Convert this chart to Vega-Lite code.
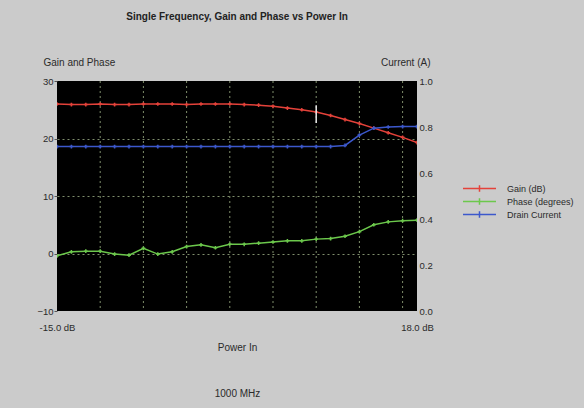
{
  "$schema": "https://vega.github.io/schema/vega-lite/v6.json",
  "width": 360,
  "height": 230,
  "autosize": {"type": "none"},
  "padding": {"left": 57, "top": 81, "right": 167, "bottom": 97},
  "background": "#cbcbcb",
  "title": {
    "text": "Single Frequency, Gain and Phase vs Power In",
    "font": "Liberation Sans",
    "fontSize": 10,
    "fontWeight": "bold",
    "color": "#222222",
    "anchor": "middle",
    "frame": "group",
    "offset": 35
  },
  "config": {
    "view": {"fill": "#000000", "stroke": null},
    "font": "Liberation Sans",
    "axis": {
      "labelColor": "#2a2a2a",
      "titleColor": "#2a2a2a",
      "labelFont": "Liberation Sans",
      "titleFont": "Liberation Sans",
      "titleFontWeight": "normal",
      "titleFontSize": 10,
      "labelFontSize": 9.5,
      "labelOverlap": false
    }
  },
  "datasets": {
    "series": [
      {"x": -15, "series": "Gain (dB)", "value": 26.0},
      {"x": -13.68, "series": "Gain (dB)", "value": 25.9},
      {"x": -12.36, "series": "Gain (dB)", "value": 25.9},
      {"x": -11.04, "series": "Gain (dB)", "value": 26.0},
      {"x": -9.72, "series": "Gain (dB)", "value": 25.9},
      {"x": -8.4, "series": "Gain (dB)", "value": 25.9},
      {"x": -7.08, "series": "Gain (dB)", "value": 26.0},
      {"x": -5.76, "series": "Gain (dB)", "value": 26.0},
      {"x": -4.44, "series": "Gain (dB)", "value": 26.0},
      {"x": -3.12, "series": "Gain (dB)", "value": 25.9},
      {"x": -1.8, "series": "Gain (dB)", "value": 26.0},
      {"x": -0.48, "series": "Gain (dB)", "value": 26.0},
      {"x": 0.84, "series": "Gain (dB)", "value": 26.0},
      {"x": 2.16, "series": "Gain (dB)", "value": 25.9},
      {"x": 3.48, "series": "Gain (dB)", "value": 25.8},
      {"x": 4.8, "series": "Gain (dB)", "value": 25.6},
      {"x": 6.12, "series": "Gain (dB)", "value": 25.3},
      {"x": 7.44, "series": "Gain (dB)", "value": 25.0},
      {"x": 8.76, "series": "Gain (dB)", "value": 24.6},
      {"x": 10.08, "series": "Gain (dB)", "value": 24.0},
      {"x": 11.4, "series": "Gain (dB)", "value": 23.3},
      {"x": 12.72, "series": "Gain (dB)", "value": 22.6},
      {"x": 14.04, "series": "Gain (dB)", "value": 21.8},
      {"x": 15.36, "series": "Gain (dB)", "value": 21.0},
      {"x": 16.68, "series": "Gain (dB)", "value": 20.2},
      {"x": 18, "series": "Gain (dB)", "value": 19.3},
      {"x": -15, "series": "Phase (degrees)", "value": -0.4},
      {"x": -13.68, "series": "Phase (degrees)", "value": 0.3},
      {"x": -12.36, "series": "Phase (degrees)", "value": 0.4},
      {"x": -11.04, "series": "Phase (degrees)", "value": 0.4},
      {"x": -9.72, "series": "Phase (degrees)", "value": -0.1},
      {"x": -8.4, "series": "Phase (degrees)", "value": -0.3},
      {"x": -7.08, "series": "Phase (degrees)", "value": 0.9},
      {"x": -5.76, "series": "Phase (degrees)", "value": -0.1},
      {"x": -4.44, "series": "Phase (degrees)", "value": 0.3},
      {"x": -3.12, "series": "Phase (degrees)", "value": 1.2},
      {"x": -1.8, "series": "Phase (degrees)", "value": 1.5},
      {"x": -0.48, "series": "Phase (degrees)", "value": 1.0},
      {"x": 0.84, "series": "Phase (degrees)", "value": 1.6},
      {"x": 2.16, "series": "Phase (degrees)", "value": 1.6},
      {"x": 3.48, "series": "Phase (degrees)", "value": 1.8},
      {"x": 4.8, "series": "Phase (degrees)", "value": 2.0},
      {"x": 6.12, "series": "Phase (degrees)", "value": 2.2},
      {"x": 7.44, "series": "Phase (degrees)", "value": 2.2},
      {"x": 8.76, "series": "Phase (degrees)", "value": 2.5},
      {"x": 10.08, "series": "Phase (degrees)", "value": 2.6},
      {"x": 11.4, "series": "Phase (degrees)", "value": 3.0},
      {"x": 12.72, "series": "Phase (degrees)", "value": 3.8},
      {"x": 14.04, "series": "Phase (degrees)", "value": 5.0},
      {"x": 15.36, "series": "Phase (degrees)", "value": 5.5},
      {"x": 16.68, "series": "Phase (degrees)", "value": 5.7},
      {"x": 18, "series": "Phase (degrees)", "value": 5.8},
      {"x": -15, "series": "Drain Current", "value": 0.715},
      {"x": -13.68, "series": "Drain Current", "value": 0.715},
      {"x": -12.36, "series": "Drain Current", "value": 0.715},
      {"x": -11.04, "series": "Drain Current", "value": 0.715},
      {"x": -9.72, "series": "Drain Current", "value": 0.715},
      {"x": -8.4, "series": "Drain Current", "value": 0.715},
      {"x": -7.08, "series": "Drain Current", "value": 0.715},
      {"x": -5.76, "series": "Drain Current", "value": 0.715},
      {"x": -4.44, "series": "Drain Current", "value": 0.715},
      {"x": -3.12, "series": "Drain Current", "value": 0.715},
      {"x": -1.8, "series": "Drain Current", "value": 0.715},
      {"x": -0.48, "series": "Drain Current", "value": 0.715},
      {"x": 0.84, "series": "Drain Current", "value": 0.715},
      {"x": 2.16, "series": "Drain Current", "value": 0.715},
      {"x": 3.48, "series": "Drain Current", "value": 0.715},
      {"x": 4.8, "series": "Drain Current", "value": 0.715},
      {"x": 6.12, "series": "Drain Current", "value": 0.715},
      {"x": 7.44, "series": "Drain Current", "value": 0.715},
      {"x": 8.76, "series": "Drain Current", "value": 0.715},
      {"x": 10.08, "series": "Drain Current", "value": 0.715},
      {"x": 11.4, "series": "Drain Current", "value": 0.72},
      {"x": 12.72, "series": "Drain Current", "value": 0.765},
      {"x": 14.04, "series": "Drain Current", "value": 0.795},
      {"x": 15.36, "series": "Drain Current", "value": 0.8},
      {"x": 16.68, "series": "Drain Current", "value": 0.802},
      {"x": 18, "series": "Drain Current", "value": 0.802}
    ],
    "cursor": [
      {"x": 8.76, "top": 25.8, "bottom": 22.7}
    ],
    "vgrid": [
      {"gx": -11.04}, {"gx": -7.08}, {"gx": -3.12}, {"gx": 0.84},
      {"gx": 4.8}, {"gx": 8.76}, {"gx": 12.72}, {"gx": 16.68}
    ]
  },
  "layer": [
    {
      "layer": [
        {
          "data": {"name": "vgrid"},
          "mark": {"type": "rule", "color": "#7f8e6c", "strokeDash": [2, 3], "strokeWidth": 1},
          "encoding": {
            "x": {
              "field": "gx",
              "type": "quantitative",
              "scale": {"domain": [-15, 18], "nice": false, "zero": false},
              "axis": {
                "values": [-15, 18],
                "labelExpr": "datum.value < 0 ? '-15.0 dB' : '18.0 dB'",
                "labelFlush": false,
                "labelOverlap": false,
                "labelBound": false,
                "ticks": false,
                "tickSize": 0,
                "domain": false,
                "labelPadding": 11,
                "grid": false,
                "title": ["Power In", "1000 MHz"],
                "titleLineHeight": 46,
                "titleBaseline": "top",
                "titleY": 31
              }
            }
          }
        },
        {
          "data": {"name": "series"},
          "transform": [{"filter": "datum.series != 'Drain Current'"}],
          "mark": {"type": "line", "strokeWidth": 1.5, "clip": true},
          "encoding": {
            "x": {"field": "x", "type": "quantitative"},
            "y": {
              "field": "value",
              "type": "quantitative",
              "scale": {"domain": [-10, 30], "nice": false, "zero": false},
              "axis": {
                "values": [-10, -5, 0, 5, 10, 15, 20, 25, 30],
                "labelExpr": "datum.value % 10 == 0 ? datum.label : ''",
                "labelOverlap": false,
                "labelBound": false,
                "labelFlush": false,
                "domain": false,
                "ticks": true,
                "tickSize": 3,
                "tickColor": "#555555",
                "labelPadding": 1,
                "grid": true,
                "gridColor": "#7f8e6c",
                "gridDash": [2, 3],
                "gridWidth": 1,
                "gridOpacity": {"condition": {"test": "datum.value % 10 != 0 || datum.value == 30 || datum.value == -10", "value": 0}, "value": 1},
                "title": "Gain and Phase",
                "titleAngle": 0,
                "titleAlign": "left",
                "titleBaseline": "middle",
                "titleX": -14,
                "titleY": -19
              }
            },
            "color": {
              "field": "series",
              "type": "nominal",
              "scale": {
                "domain": ["Gain (dB)", "Phase (degrees)", "Drain Current"],
                "range": ["#e4423a", "#6cc84c", "#3c58cc"]
              },
              "legend": {
                "orient": "none",
                "legendX": 416,
                "legendY": 101,
                "title": null,
                "symbolType": "M-3,0H3M0,-0.6V0.6",
                "symbolSize": 121,
                "symbolStrokeWidth": 1.5,
                "labelFontSize": 9,
                "labelFont": "Liberation Sans",
                "labelColor": "#2a2a2a",
                "labelOffset": 21,
                "rowPadding": -0.7,
                "padding": 0
              }
            }
          }
        },
        {
          "data": {"name": "series"},
          "transform": [{"filter": "datum.series != 'Drain Current'"}],
          "mark": {"type": "point", "shape": "cross", "filled": true, "size": 14, "opacity": 1, "clip": true},
          "encoding": {
            "x": {"field": "x", "type": "quantitative"},
            "y": {"field": "value", "type": "quantitative"},
            "color": {"field": "series", "type": "nominal"}
          }
        },
        {
          "data": {"name": "cursor"},
          "mark": {"type": "rule", "color": "#e8e8e8", "strokeWidth": 1.5},
          "encoding": {
            "x": {"field": "x", "type": "quantitative"},
            "y": {"field": "top", "type": "quantitative"},
            "y2": {"field": "bottom"}
          }
        }
      ]
    },
    {
      "layer": [
        {
          "data": {"name": "series"},
          "transform": [{"filter": "datum.series == 'Drain Current'"}],
          "mark": {"type": "line", "strokeWidth": 1.5, "clip": true},
          "encoding": {
            "x": {"field": "x", "type": "quantitative"},
            "y": {
              "field": "value",
              "type": "quantitative",
              "scale": {"domain": [0, 1], "nice": false, "zero": false},
              "axis": {
                "orient": "right",
                "values": [0, 0.1, 0.2, 0.3, 0.4, 0.5, 0.6, 0.7, 0.8, 0.9, 1.0],
                "format": ".1f",
                "labelOverlap": false,
                "labelBound": false,
                "labelFlush": false,
                "grid": false,
                "ticks": false,
                "tickSize": 0,
                "domain": false,
                "labelPadding": 2,
                "title": "Current (A)",
                "titleAngle": 0,
                "titleAlign": "right",
                "titleBaseline": "middle",
                "titleX": 13,
                "titleY": -19
              }
            },
            "color": {"field": "series", "type": "nominal"}
          }
        },
        {
          "data": {"name": "series"},
          "transform": [{"filter": "datum.series == 'Drain Current'"}],
          "mark": {"type": "point", "shape": "cross", "filled": true, "size": 14, "opacity": 1, "clip": true},
          "encoding": {
            "x": {"field": "x", "type": "quantitative"},
            "y": {"field": "value", "type": "quantitative"},
            "color": {"field": "series", "type": "nominal"}
          }
        }
      ]
    }
  ],
  "resolve": {"scale": {"y": "independent"}, "axis": {"y": "independent"}}
}
